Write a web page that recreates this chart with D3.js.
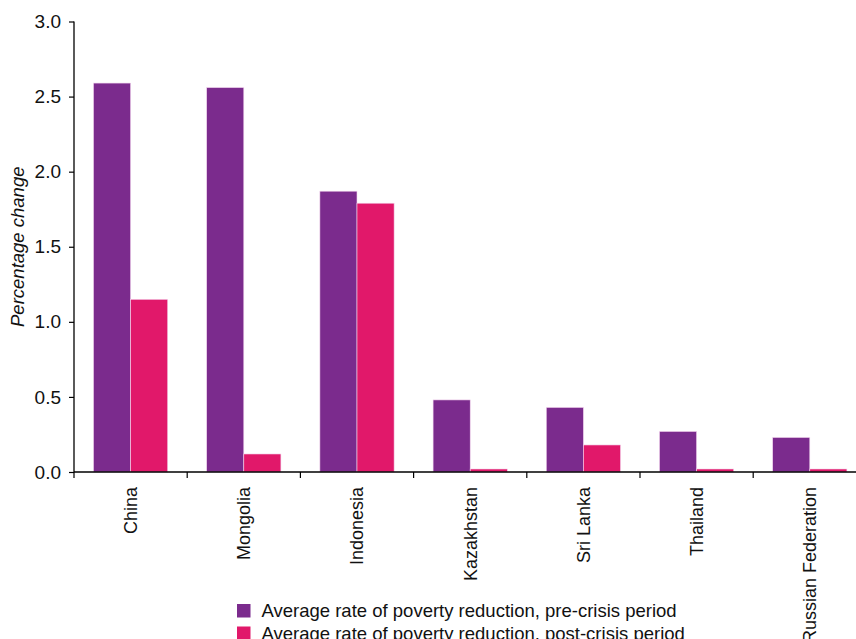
<!DOCTYPE html>
<html>
<head>
<meta charset="utf-8">
<script src="https://cdn.jsdelivr.net/npm/d3@7"></script>
<style>
  html, body { margin: 0; padding: 0; background: #fff; }
  svg { display: block; font-family: "Liberation Sans", Arial, sans-serif; }
</style>
</head>
<body>
<svg id="chart" width="856" height="639"></svg>
<script>
const categories = ["China", "Mongolia", "Indonesia", "Kazakhstan", "Sri Lanka", "Thailand", "Russian Federation"];
const seriesNames = [
  "Average rate of poverty reduction, pre-crisis period",
  "Average rate of poverty reduction, post-crisis period"
];
const preCrisis  = [2.59, 2.56, 1.87, 0.48, 0.43, 0.27, 0.23];
const postCrisis = [1.15, 0.12, 1.79, 0.02, 0.18, 0.02, 0.02];
const yTicks = [0, 0.5, 1.0, 1.5, 2.0, 2.5, 3.0];
const yLabel = "Percentage change";
const colors = ["#7B2B8D", "#E1186A"];

const seriesValues = [preCrisis, postCrisis];
const svg = d3.select("#chart");

const x0 = d3.scaleBand().domain(categories).range([74, 866.4]).paddingInner(0).paddingOuter(0);
const x1 = d3.scaleBand().domain(d3.range(seriesNames.length)).range([0, x0.bandwidth()])
  .paddingInner(0).paddingOuter(0.525);
const y = d3.scaleLinear().domain([0, 3]).range([472, 21.5]);

// bars
const groups = svg.append("g").selectAll("g").data(categories).join("g")
  .attr("transform", d => `translate(${x0(d)},0)`);
groups.selectAll("rect")
  .data((c, i) => seriesValues.map((vals, s) => ({ s, v: vals[i] })))
  .join("rect")
  .attr("x", d => x1(d.s))
  .attr("width", x1.bandwidth())
  .attr("y", d => y(d.v))
  .attr("height", d => y(0) - y(d.v))
  .attr("fill", d => colors[d.s])
  .attr("stroke", "#f3d6ee")
  .attr("stroke-width", 0.6);

// y axis
const yAxis = svg.append("g").attr("transform", "translate(74,0)")
  .call(d3.axisLeft(y).tickValues(yTicks).tickFormat(d3.format(".1f")).tickSize(5).tickPadding(8));
yAxis.select(".domain").attr("stroke", "#000").attr("stroke-width", 1.3).attr("d", `M0,${y(3)}V${y(0)}`);
yAxis.selectAll(".tick line").attr("stroke", "#000").attr("stroke-width", 1.2);
yAxis.selectAll(".tick text").attr("font-size", 19).attr("fill", "#111")
  .attr("font-family", "'Liberation Sans', Arial, sans-serif");

// x axis
const boundaries = categories.map(c => x0(c));
const xAxisG = svg.append("g").attr("transform", `translate(0,${y(0)})`);
xAxisG.append("line").attr("x1", 74).attr("x2", 866).attr("y1", 0).attr("y2", 0)
  .attr("stroke", "#000").attr("stroke-width", 1.3);
xAxisG.selectAll("line.tk").data(boundaries).join("line").attr("class", "tk")
  .attr("x1", d => d).attr("x2", d => d).attr("y1", 0).attr("y2", 6)
  .attr("stroke", "#000").attr("stroke-width", 1.2);
xAxisG.selectAll("text.lbl").data(categories).join("text").attr("class", "lbl")
  .attr("transform", d => `translate(${x0(d) + x0.bandwidth() / 2},15) rotate(-90)`)
  .attr("text-anchor", "end")
  .attr("dy", "0.35em")
  .attr("font-size", 18)
  .attr("fill", "#111")
  .text(d => d);

// y label
svg.append("text")
  .attr("transform", `translate(24,${(y(0) + y(3)) / 2}) rotate(-90)`)
  .attr("text-anchor", "middle")
  .attr("font-size", 18.5)
  .attr("font-style", "italic")
  .attr("fill", "#111")
  .text(yLabel);

// legend
const legend = svg.append("g").attr("transform", "translate(237,604)");
const items = legend.selectAll("g").data(seriesNames).join("g")
  .attr("transform", (d, i) => `translate(0,${i * 22.5})`);
items.append("rect").attr("width", 13.5).attr("height", 13.5).attr("fill", (d, i) => colors[i]);
items.append("text").attr("x", 24.5).attr("y", 6.8).attr("dy", "0.35em")
  .attr("font-size", 18.5).attr("fill", "#111").text(d => d);
</script>
</body>
</html>
